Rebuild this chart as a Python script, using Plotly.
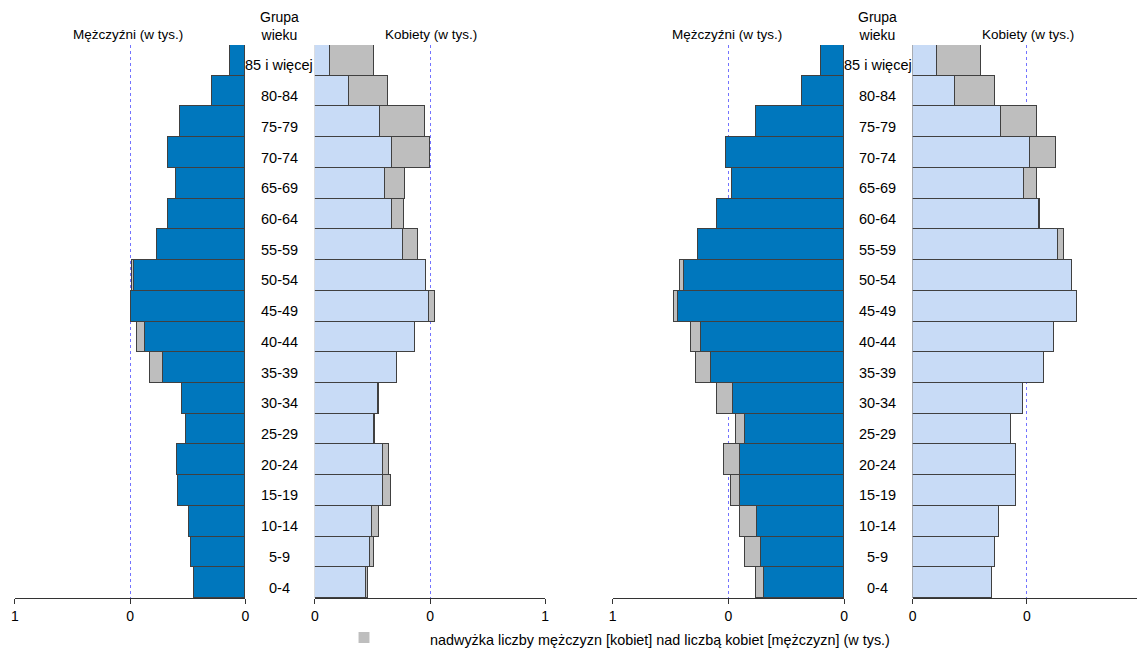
import plotly.graph_objects as go

ages = ["0-4", "5-9", "10-14", "15-19", "20-24", "25-29", "30-34", "35-39", "40-44",
        "45-49", "50-54", "55-59", "60-64", "65-69", "70-74", "75-79", "80-84", "85 i więcej"]

# left pyramid (thousands)
men_a = [0.223, 0.237, 0.246, 0.293, 0.297, 0.258, 0.274, 0.414, 0.470,
         0.496, 0.491, 0.384, 0.336, 0.302, 0.336, 0.284, 0.147, 0.065]
women_a = [0.228, 0.254, 0.276, 0.328, 0.323, 0.260, 0.277, 0.358, 0.435,
           0.522, 0.483, 0.448, 0.388, 0.392, 0.500, 0.478, 0.315, 0.254]

# right pyramid (thousands)
men_b = [0.381, 0.431, 0.453, 0.491, 0.522, 0.470, 0.549, 0.641, 0.661,
         0.737, 0.712, 0.634, 0.552, 0.487, 0.513, 0.384, 0.185, 0.103]
women_b = [0.348, 0.360, 0.378, 0.451, 0.451, 0.429, 0.481, 0.575, 0.618,
           0.717, 0.695, 0.661, 0.554, 0.545, 0.627, 0.545, 0.360, 0.296]

tick_vals = [0, 0.5, 1]
tick_text = ["0", "0", "1"]

BLUE = "#0077BD"
LIGHT = "#C8DBF6"
GREY = "#BEBEBE"
OUT = "#404040"
W, H = 1145, 650
OFF = 8  # page body margin
FW, FH = W - OFF, H - OFF
FONT = "Liberation Sans, Arial, sans-serif"


def fx(px):
    return (px - OFF) / FW


def fy(py):
    return 1 - (py - OFF) / FH


fig = go.Figure()


def add_pyr(men, women, xm, xw):
    common = [min(m, w) for m, w in zip(men, women)]
    men_sur = [max(0, m - w) for m, w in zip(men, women)]
    wom_sur = [max(0, w - m) for m, w in zip(men, women)]
    fig.add_trace(go.Bar(y=ages, x=common, orientation="h", xaxis=xm, yaxis="y",
                         marker=dict(color=BLUE, line=dict(color=OUT, width=1)), showlegend=False))
    fig.add_trace(go.Bar(y=ages, x=men_sur, orientation="h", xaxis=xm, yaxis="y",
                         marker=dict(color=GREY, line=dict(color=OUT, width=1)), showlegend=False))
    fig.add_trace(go.Bar(y=ages, x=common, orientation="h", xaxis=xw, yaxis="y",
                         marker=dict(color=LIGHT, line=dict(color=OUT, width=1)), showlegend=False))
    fig.add_trace(go.Bar(y=ages, x=wom_sur, orientation="h", xaxis=xw, yaxis="y",
                         marker=dict(color=GREY, line=dict(color=OUT, width=1)), showlegend=False))


add_pyr(men_a, women_a, "x", "x2")
add_pyr(men_b, women_b, "x3", "x4")


def xax(p0, p1, rng):
    return dict(domain=[fx(p0), min(fx(p1), 1.0)], range=rng, anchor="y",
                tickvals=tick_vals, ticktext=tick_text, showgrid=True,
                gridcolor="#7373ff", griddash="dot", gridwidth=1, zeroline=False,
                showline=True, linecolor="#333333", linewidth=1, ticks="outside",
                ticklen=5, tickcolor="#333333", ticklabeloverflow="allow",
                tickfont=dict(size=14, color="#000000", family=FONT), fixedrange=True)


fig.update_layout(
    width=FW, height=FH, margin=dict(l=0, r=0, t=0, b=0, pad=0), autosize=False,
    paper_bgcolor="white", plot_bgcolor="white",
    barmode="stack", bargap=0,
    font=dict(family=FONT, size=14, color="#000000"),
    yaxis=dict(domain=[fy(598), fy(45)], categoryorder="array", categoryarray=ages,
               range=[-0.5, len(ages) - 0.5], showticklabels=False, showgrid=False,
               zeroline=False, showline=False, ticks="", anchor="x", fixedrange=True),
    xaxis=xax(11, 243, [1, 0]),
    xaxis2=xax(313, 545, [0, 1]),
    xaxis3=xax(613, 846, [1, 0]),
    xaxis4=xax(915, 1145, [0, 1]),
    showlegend=False,
)

ann = []
for cx in (277, 880):
    for a in ages:
        ann.append(dict(x=fx(cx), xref="paper", y=a, yref="y", text=a, showarrow=False, yshift=-5,
                        font=dict(size=14.5, family=FONT), xanchor="center", yanchor="middle"))
    ann.append(dict(x=fx(cx), xref="paper", y=fy(26), yref="paper", text="Grupa<br>wieku",
                    showarrow=False, font=dict(size=14, family=FONT), xanchor="center", yanchor="middle"))
for cx, t in ((125, "Mężczyźni (w tys.)"), (430, "Kobiety (w tys.)"),
              (728, "Mężczyźni (w tys.)"), (1031, "Kobiety (w tys.)")):
    ann.append(dict(x=fx(cx), xref="paper", y=fy(35), yref="paper", text=t, showarrow=False,
                    font=dict(size=13.5, family=FONT), xanchor="center", yanchor="middle"))
ann.append(dict(x=fx(427), xref="paper", y=fy(640), yref="paper",
                text="nadwyżka liczby mężczyzn [kobiet] nad liczbą kobiet [mężczyzn] (w tys.)",
                showarrow=False, font=dict(size=14.4, family=FONT), xanchor="left", yanchor="middle"))
fig.update_layout(annotations=ann)
fig.add_shape(type="rect", xref="paper", yref="paper", x0=fx(357), x1=fx(368),
              y0=fy(643), y1=fy(632), fillcolor=GREY, line=dict(width=0))

fig.write_html("out.html")
